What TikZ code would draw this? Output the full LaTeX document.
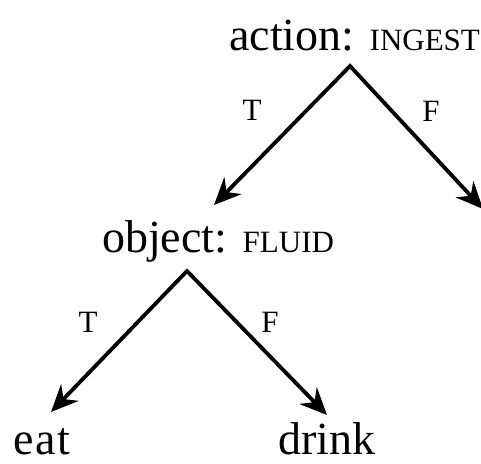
\documentclass[tikz,border=0pt]{standalone}
\usepackage{fontspec}
\setmainfont{Liberation Serif}
\usetikzlibrary{arrows.meta}
\newcommand\featfont{\fontsize{31}{34}\selectfont}
\begin{document}
\begin{tikzpicture}[x=1pt,y=-1pt,
  word/.style={inner sep=0pt, anchor=base west, text depth=0pt, font=\fontsize{46}{50}\selectfont},
  branch/.style={inner sep=0pt, font=\fontsize{31}{34}\selectfont},
  fork/.style={line width=3.8pt, line join=miter,
    {Stealth[length=27pt, width=24pt, inset=9pt]}-{Stealth[length=27pt, width=24pt, inset=9pt]}}]
  \useasboundingbox (0,0) rectangle (481,463);
  % decision nodes and leaves
  \node[word] (act) at (229,50) {action: {\featfont INGEST}};
  \node[word] (obj) at (102,252) {object: {\featfont FLUID}};
  \node[word] (eat) at (13,454) {e\kern1.5pt a\kern1.5pt t};
  \node[word] (drink) at (278,454) {drink};
  % branch points and arrow ends
  \coordinate (ap1) at (350,66);
  \coordinate (l1) at (214,205);
  \coordinate (r1) at (483,209);
  \coordinate (ap2) at (187,271);
  \coordinate (l2) at (51,412);
  \coordinate (r2) at (327,415);
  % true / false branches
  \draw[fork] (l1) -- (ap1) -- (r1);
  \draw[fork] (l2) -- (ap2) -- (r2);
  % branch labels
  \node[branch] (t1) at (252,110) {T};
  \node[branch] (f1) at (431,111) {F};
  \node[branch] (t2) at (88,322) {T};
  \node[branch] (f2) at (270,322) {F};
\end{tikzpicture}
\end{document}
